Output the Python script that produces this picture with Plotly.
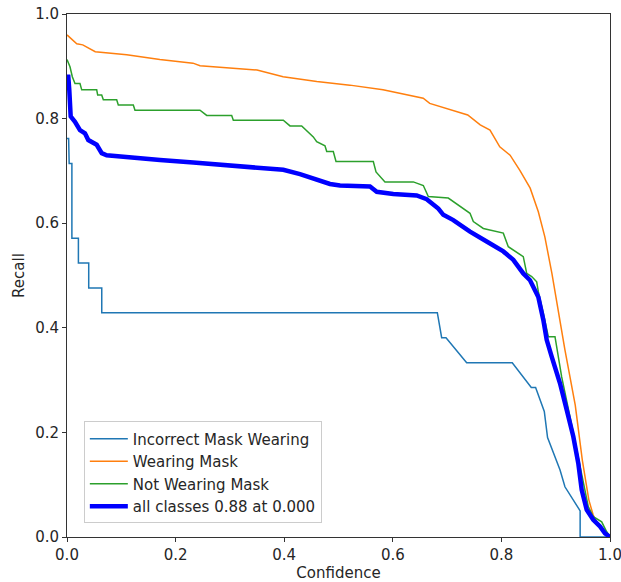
import plotly.graph_objects as go

# ---- data ----
incorrect_conf = [0.0, 0.003, 0.004, 0.009, 0.009, 0.021, 0.021, 0.040, 0.040, 0.064, 0.064,
                  0.682, 0.690, 0.698, 0.736, 0.820, 0.855, 0.863, 0.879, 0.885, 0.908, 0.917,
                  0.945, 0.945, 1.0]
incorrect_recall = [0.762, 0.762, 0.714, 0.714, 0.571, 0.571, 0.524, 0.524, 0.476, 0.476, 0.429,
                    0.429, 0.381, 0.381, 0.333, 0.333, 0.286, 0.286, 0.240, 0.190, 0.128, 0.096,
                    0.050, 0.0, 0.0]

wearing_conf = [0.0, 0.018, 0.029, 0.052, 0.110, 0.171, 0.232, 0.245, 0.350, 0.398, 0.460,
                0.521, 0.582, 0.656, 0.668, 0.711, 0.738, 0.761, 0.779, 0.797, 0.816, 0.834,
                0.853, 0.868, 0.880, 0.893, 0.904, 0.917, 0.936, 0.949, 0.961, 0.969, 0.982,
                0.994, 1.0]
wearing_recall = [0.960, 0.943, 0.941, 0.928, 0.922, 0.913, 0.906, 0.901, 0.893, 0.880, 0.871,
                  0.864, 0.855, 0.839, 0.829, 0.816, 0.807, 0.788, 0.778, 0.746, 0.730, 0.701,
                  0.667, 0.622, 0.574, 0.504, 0.434, 0.358, 0.252, 0.147, 0.071, 0.042, 0.017,
                  0.008, 0.0]

notwearing_conf = [0.0, 0.0055, 0.0098, 0.0147, 0.0239, 0.0271, 0.0547, 0.0565, 0.0639, 0.0669,
                   0.0915, 0.0945, 0.1221, 0.1252, 0.2449, 0.2573, 0.3033, 0.3063, 0.3983,
                   0.4107, 0.4322, 0.4536, 0.4598, 0.4751, 0.4783, 0.4904, 0.4954, 0.5641,
                   0.5691, 0.5856, 0.6378, 0.6562, 0.6654, 0.7022, 0.7422, 0.7483, 0.7667,
                   0.8035, 0.8127, 0.8403, 0.8466, 0.8558, 0.8650, 0.8680, 0.8772, 0.8864,
                   0.8987, 0.9048, 0.9110, 0.9263, 0.9387, 0.9508, 0.9600, 0.9692, 0.9847,
                   0.9939, 1.0]
notwearing_recall = [0.913, 0.899, 0.880, 0.867, 0.867, 0.855, 0.855, 0.845, 0.845, 0.836,
                     0.836, 0.826, 0.826, 0.816, 0.816, 0.806, 0.806, 0.797, 0.797, 0.786,
                     0.786, 0.765, 0.756, 0.748, 0.737, 0.737, 0.718, 0.718, 0.698, 0.679,
                     0.679, 0.672, 0.651, 0.648, 0.619, 0.603, 0.590, 0.581, 0.555, 0.536,
                     0.504, 0.498, 0.488, 0.469, 0.428, 0.383, 0.383, 0.345, 0.306, 0.230,
                     0.166, 0.103, 0.058, 0.039, 0.029, 0.010, 0.0]

all_conf = [0.0, 0.0024, 0.0042, 0.0068, 0.0147, 0.0239, 0.0331, 0.0392, 0.0547, 0.0639, 0.0731,
            0.1221, 0.1713, 0.2326, 0.2941, 0.3554, 0.3983, 0.4291, 0.4599, 0.4843, 0.5028,
            0.5580, 0.5704, 0.6009, 0.6440, 0.6624, 0.6838, 0.6930, 0.7114, 0.7422, 0.7729,
            0.8035, 0.8219, 0.8403, 0.8527, 0.8680, 0.8772, 0.8834, 0.8926, 0.9079, 0.9203,
            0.9324, 0.9416, 0.9479, 0.9571, 0.9692, 0.9816, 0.9908, 1.0]
all_recall = [0.880, 0.880, 0.855, 0.804, 0.794, 0.778, 0.772, 0.759, 0.750, 0.734, 0.730,
              0.725, 0.721, 0.716, 0.711, 0.707, 0.702, 0.694, 0.684, 0.675, 0.672, 0.670,
              0.660, 0.656, 0.653, 0.646, 0.628, 0.616, 0.606, 0.584, 0.565, 0.546, 0.530,
              0.504, 0.491, 0.459, 0.415, 0.377, 0.345, 0.294, 0.243, 0.192, 0.141, 0.090,
              0.052, 0.033, 0.020, 0.007, 0.0]

series_names = ["Incorrect Mask Wearing", "Wearing Mask", "Not Wearing Mask", "all classes 0.88 at 0.000"]
tick_vals = [0.0, 0.2, 0.4, 0.6, 0.8, 1.0]
tick_text = ["0.0", "0.2", "0.4", "0.6", "0.8", "1.0"]

FONT = "DejaVu Sans"
TXT = "#262626"

fig = go.Figure()
fig.add_trace(go.Scatter(x=incorrect_conf, y=incorrect_recall, mode="lines", name=series_names[0],
                         line=dict(color="#1f77b4", width=1.5)))
fig.add_trace(go.Scatter(x=wearing_conf, y=wearing_recall, mode="lines", name=series_names[1],
                         line=dict(color="#ff7f0e", width=1.5)))
fig.add_trace(go.Scatter(x=notwearing_conf, y=notwearing_recall, mode="lines", name=series_names[2],
                         line=dict(color="#2ca02c", width=1.5)))
fig.add_trace(go.Scatter(x=all_conf, y=all_recall, mode="lines", name=series_names[3],
                         line=dict(color="#0000ff", width=4.5)))

axis_common = dict(
    range=[0, 1], tickvals=tick_vals, ticktext=tick_text, automargin=False,
    ticklabeloverflow="allow",
    showgrid=False, zeroline=False, showline=True, linecolor="#333333", linewidth=1,
    mirror=True, ticks="outside", ticklen=4, tickwidth=1, tickcolor="#333333",
    tickfont=dict(family=FONT, size=15, color=TXT),
)

fig.update_layout(
    width=621, height=582,
    margin=dict(l=67, r=11, t=14, b=45),
    paper_bgcolor="white", plot_bgcolor="white",
    font=dict(family=FONT, color=TXT),
    xaxis=dict(**axis_common, title=dict(text="Confidence", font=dict(family=FONT, size=15, color=TXT), standoff=4)),
    yaxis=dict(**axis_common, title=dict(text="Recall", font=dict(family=FONT, size=15, color=TXT), standoff=6)),
    legend=dict(x=0.031, y=0.026, xanchor="left", yanchor="bottom", itemwidth=38,
                bgcolor="rgba(255,255,255,0.8)", bordercolor="#cccccc", borderwidth=1,
                font=dict(family=FONT, size=15, color=TXT)),
    showlegend=True,
)

fig.write_html("out.html")
